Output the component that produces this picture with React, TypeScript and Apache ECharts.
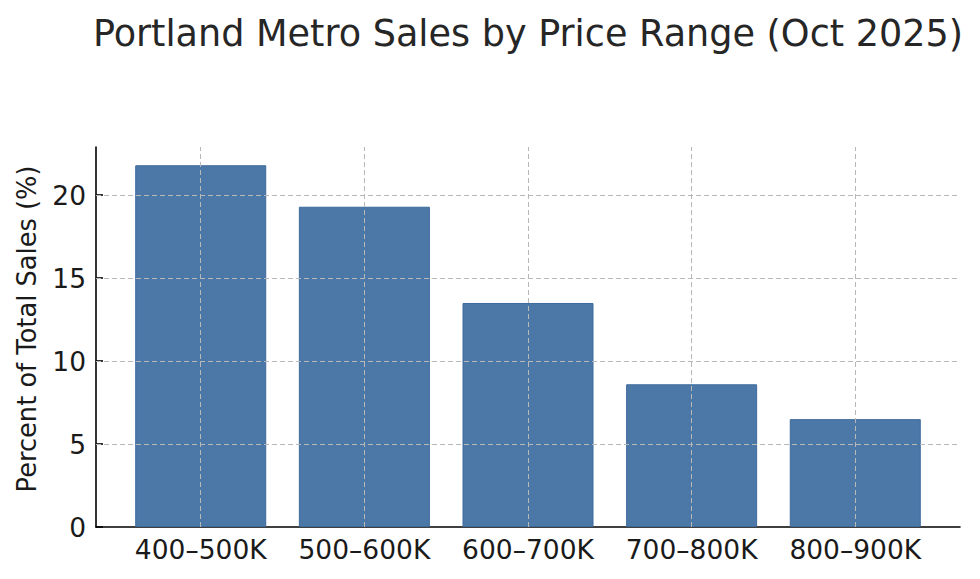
import * as echarts from "echarts";
import React, { useEffect, useRef } from "react";

const categories = ["400–500K", "500–600K", "600–700K", "700–800K", "800–900K"];
const shares = [21.8, 19.3, 13.5, 8.6, 6.5];
const yTicks = [0, 5, 10, 15, 20];

const FONT = "DejaVu Sans";
const GRID = { color: "#b8b8b8", type: [5, 3], width: 1 };

export default function App() {
	const ref = useRef<HTMLDivElement>(null);

	useEffect(() => {
		const chart = echarts.init(ref.current, null, { renderer: "svg" });
		const positions = categories.map((_, i) => i);

		chart.setOption({
			animation: false,
			textStyle: { fontFamily: FONT },
			title: {
				text: "Portland Metro Sales by Price Range (Oct 2025)",
				left: 523,
				textAlign: "center",
				top: 10,
				textStyle: { fontFamily: FONT, fontSize: 36.6, fontWeight: "normal", color: "#262626" },
			},
			grid: { left: 96, right: 20, top: 147, bottom: 52 },
			xAxis: {
				type: "value",
				min: -0.64,
				max: 4.64,
				axisLine: { onZero: false, lineStyle: { color: "#000", width: 1.6 } },
				axisTick: {
					inside: true,
					length: 7,
					customValues: positions,
					lineStyle: { color: "#000", width: 1.6 },
				},
				axisLabel: {
					customValues: positions,
					formatter: (v: number) => categories[Math.round(v)] ?? "",
					fontSize: 26.5,
					color: "#1a1a1a",
					margin: 9,
				},
				splitLine: { show: false },
			},
			yAxis: {
				type: "value",
				min: 0,
				max: 22.9,
				name: "Percent of Total Sales (%)",
				nameLocation: "middle",
				nameGap: 56,
				nameTextStyle: { fontSize: 25.7, color: "#1a1a1a", padding: [0, 0, 0, 16] },
				axisLine: { show: true, onZero: false, lineStyle: { color: "#000", width: 1.6 } },
				axisTick: {
					show: true,
					inside: true,
					length: 7,
					customValues: yTicks,
					lineStyle: { color: "#000", width: 1.6 },
				},
				axisLabel: {
					customValues: yTicks,
					fontSize: 26.5,
					color: "#1a1a1a",
					margin: 10,
				},
				splitLine: { show: false },
			},
			series: [
				{
					type: "bar",
					data: shares.map((v, i) => [i, v]),
					barWidth: 131,
					itemStyle: { color: "#4c78a8", borderColor: "#3c6a9b", borderWidth: 1 },
					z: 1,
					markLine: {
						silent: true,
						symbol: "none",
						label: { show: false },
						lineStyle: GRID,
						data: [
							...positions.map((p) => ({ xAxis: p })),
							...yTicks.filter((t) => t > 0).map((t) => ({ yAxis: t })),
						],
						z: 3,
					},
				},
			],
		});

		const onResize = () => chart.resize();
		window.addEventListener("resize", onResize);
		return () => {
			window.removeEventListener("resize", onResize);
			chart.dispose();
		};
	}, []);

	return <div ref={ref} style={{ width: 980, height: 579, margin: -8 }} />;
}
